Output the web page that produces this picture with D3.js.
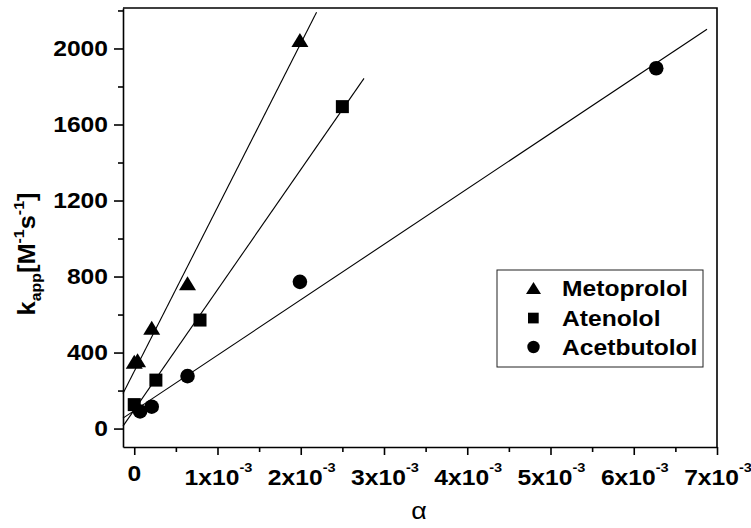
<!doctype html>
<html>
  <head>
    <meta charset="utf-8">
    <title>k_app vs alpha</title>
    <script src="https://cdn.jsdelivr.net/npm/d3@7"></script>
    <style>
      body { margin: 0; background: #fff; }
      svg text { font-family: Arial, "Liberation Sans", sans-serif; font-weight: bold; fill: #000; }
    </style>
  </head>
  <body>
    <div id="chart"></div>
    <script>
      // data
      var seriesNames = ['Metoprolol', 'Atenolol', 'Acetbutolol'];

      var metoX = [0, 0.00004, 0.00021, 0.00064, 0.00199];
      var metoY = [352, 360, 530, 764, 2045];

      var atenX = [0, 0.00026, 0.00079, 0.0025];
      var atenY = [126, 255, 571, 1694];

      var acetX = [0.00007, 0.00021, 0.00064, 0.00199, 0.00627];
      var acetY = [90, 115, 276, 772, 1896];

      // fitted lines, start and end points
      var metoFitX = [-0.000135, 0.00219];
      var metoFitY = [185, 2190];
      var atenFitX = [-0.000135, 0.00276];
      var atenFitY = [13, 1843];
      var acetFitX = [-0.000135, 0.00688];
      var acetFitY = [55, 2101];

      var xMajor = [0, 0.001, 0.002, 0.003, 0.004, 0.005, 0.006, 0.007];
      var xMinor = [0.0005, 0.0015, 0.0025, 0.0035, 0.0045, 0.0055, 0.0065];
      var yMajor = [0, 400, 800, 1200, 1600, 2000];
      var yMinor = [200, 600, 1000, 1400, 1800, 2200];

      var width = 751, height = 528;
      var plotLeft = 123, plotRight = 717, plotTop = 8, plotBottom = 447;
      var sx = 1.12; // text in the picture is a bit wider than plain Arial

      var svg = d3.select('#chart').append('svg')
        .attr('width', width)
        .attr('height', height);

      var x = d3.scaleLinear().domain([-0.000135, 0.007]).range([plotLeft, plotRight]);
      var y = d3.scaleLinear().domain([-97, 2213]).range([plotBottom, plotTop]);

      // axes
      var xAxis = svg.append('g').attr('transform', 'translate(0,' + plotBottom + ')');
      xAxis.call(d3.axisBottom(x).tickValues(xMajor).tickSize(8).tickSizeOuter(0).tickFormat(''));
      xAxis.append('g').call(d3.axisBottom(x).tickValues(xMinor).tickSize(5).tickSizeOuter(0).tickFormat(''))
        .select('.domain').remove();

      var yAxis = svg.append('g').attr('transform', 'translate(' + plotLeft + ',0)');
      yAxis.call(d3.axisLeft(y).tickValues(yMajor).tickSize(9).tickSizeOuter(0).tickFormat(''));
      yAxis.append('g').call(d3.axisLeft(y).tickValues(yMinor).tickSize(5).tickSizeOuter(0).tickFormat(''))
        .select('.domain').remove();

      svg.selectAll('.domain, .tick line').attr('stroke', '#000').attr('stroke-width', 1.6);

      // top and right frame
      svg.append('path')
        .attr('d', 'M' + plotLeft + ',' + plotTop + 'H' + plotRight + 'V' + plotBottom)
        .attr('fill', 'none')
        .attr('stroke', '#000')
        .attr('stroke-width', 1.6);

      // tick labels
      xMajor.forEach(function(v) {
        var t = svg.append('text')
          .attr('text-anchor', 'middle')
          .style('font-size', '22px');
        if (v === 0) {
          t.attr('transform', 'translate(' + x(v) + ',481) scale(' + sx + ',1)').text('0');
        } else {
          t.attr('transform', 'translate(' + (x(v) + 1) + ',485) scale(' + sx + ',1)');
          t.append('tspan').text(Math.round(v * 1000) + 'x10');
          t.append('tspan').attr('dy', -13).style('font-size', '13px').text('-3');
        }
      });

      yMajor.forEach(function(v) {
        svg.append('text')
          .attr('transform', 'translate(108,' + (y(v) + 7.5) + ') scale(' + sx + ',1)')
          .attr('text-anchor', 'end')
          .style('font-size', '22px')
          .text(v);
      });

      // axis titles
      svg.append('text')
        .attr('transform', 'translate(419,519) scale(' + sx + ',1)')
        .attr('text-anchor', 'middle')
        .style('font-size', '24px')
        .style('font-weight', 'normal')
        .text('α');

      var yTitle = svg.append('text')
        .attr('transform', 'translate(35,254) rotate(-90) scale(1.06,1)')
        .attr('text-anchor', 'middle')
        .style('font-size', '24px');
      yTitle.append('tspan').text('k');
      yTitle.append('tspan').attr('dy', 6).style('font-size', '15px').text('app');
      yTitle.append('tspan').attr('dy', -6).text('[M');
      yTitle.append('tspan').attr('dy', -11).style('font-size', '15px').text('-1');
      yTitle.append('tspan').attr('dy', 11).text('s');
      yTitle.append('tspan').attr('dy', -11).style('font-size', '15px').text('-1');
      yTitle.append('tspan').attr('dy', 11).text(']');

      // fit lines
      var line = d3.line().x(function(d) { return x(d[0]); }).y(function(d) { return y(d[1]); });
      [[metoFitX, metoFitY], [atenFitX, atenFitY], [acetFitX, acetFitY]].forEach(function(f) {
        svg.append('path')
          .datum(d3.zip(f[0], f[1]))
          .attr('d', line)
          .attr('fill', 'none')
          .attr('stroke', '#000')
          .attr('stroke-width', 1.1);
      });

      // markers
      function triangle(g, cx, cy, w, h) {
        g.append('path')
          .attr('d', 'M' + cx + ',' + (cy - h / 2) + 'L' + (cx + w / 2) + ',' + (cy + h / 2) +
            'L' + (cx - w / 2) + ',' + (cy + h / 2) + 'Z')
          .attr('fill', '#000');
      }

      var marks = svg.append('g');
      d3.zip(metoX, metoY).forEach(function(d) {
        triangle(marks, x(d[0]), y(d[1]), 17, 14);
      });
      marks.selectAll('rect.aten').data(d3.zip(atenX, atenY)).enter().append('rect')
        .attr('x', function(d) { return x(d[0]) - 6.5; })
        .attr('y', function(d) { return y(d[1]) - 6.5; })
        .attr('width', 13)
        .attr('height', 13)
        .attr('fill', '#000');
      marks.selectAll('circle.acet').data(d3.zip(acetX, acetY)).enter().append('circle')
        .attr('cx', function(d) { return x(d[0]); })
        .attr('cy', function(d) { return y(d[1]); })
        .attr('r', 7.3)
        .attr('fill', '#000');

      // legend
      var legend = svg.append('g');
      legend.append('rect')
        .attr('x', 497)
        .attr('y', 270)
        .attr('width', 206)
        .attr('height', 97)
        .attr('fill', '#fff')
        .attr('stroke', '#222')
        .attr('stroke-width', 1);

      var rowY = [288, 318, 347];
      triangle(legend, 533.5, rowY[0], 15, 12);
      legend.append('rect').attr('x', 528).attr('y', rowY[1] - 5.3).attr('width', 10.7).attr('height', 10.7).attr('fill', '#000');
      legend.append('circle').attr('cx', 533.5).attr('cy', rowY[2]).attr('r', 6.2).attr('fill', '#000');

      seriesNames.forEach(function(name, i) {
        legend.append('text')
          .attr('transform', 'translate(562,' + (rowY[i] + 8) + ') scale(' + sx + ',1)')
          .style('font-size', '22px')
          .text(name);
      });
    </script>
  </body>
</html>
